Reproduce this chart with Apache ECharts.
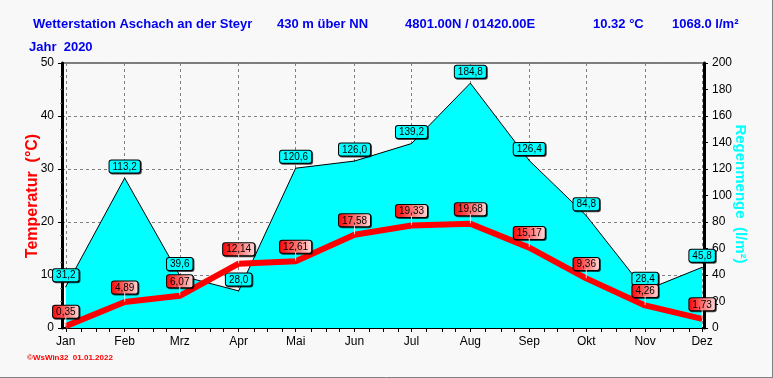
<!DOCTYPE html>
<html>
<head>
<meta charset="utf-8">
<script src="https://cdn.jsdelivr.net/npm/echarts@6/dist/echarts.min.js"></script>
<style>
html,body{margin:0;padding:0;background:#f8f8f8;}
#chart{width:773px;height:378px;}
</style>
</head>
<body>
<div id="chart"></div>
<script>
// ---- data ----
const months = ['Jan','Feb','Mrz','Apr','Mai','Jun','Jul','Aug','Sep','Okt','Nov','Dez'];
const temperature = [0.35, 4.89, 6.07, 12.14, 12.61, 17.58, 19.33, 19.68, 15.17, 9.36, 4.26, 1.73];
const rain = [31.2, 113.2, 39.6, 28.0, 120.6, 126.0, 139.2, 184.8, 126.4, 84.8, 28.4, 45.8];
const tempTicks = [0, 10, 20, 30, 40, 50];
const rainTicks = [0, 20, 40, 60, 80, 100, 120, 140, 160, 180, 200];
const year = 2020;

// ---- day-based category axis (months are placed at their first day) ----
const DAY = 86400000;
const start = Date.UTC(year - 1, 11, 30);
const end = Date.UTC(year, 11, 2);
const days = [];
for (let t = start; t <= end; t += DAY) days.push(new Date(t).toISOString().slice(0, 10));
const monthIdx = months.map((m, i) => Math.round((Date.UTC(year, i, 1) - start) / DAY));
const monthLabelAt = {};
monthIdx.forEach((d, i) => monthLabelAt[d] = months[i]);
const tickSet = new Set();
monthIdx.forEach((d, i) => {
  const len = Math.round((Date.UTC(year, i + 1, 1) - Date.UTC(year, i, 1)) / DAY);
  for (let k = 0; k < 4; k++) {
    const idx = d + Math.round(k * len / 4);
    if (idx < days.length) tickSet.add(idx);
  }
});
const monthSet = new Set(monthIdx);

const tempData = temperature.map((v, i) => [monthIdx[i], v]);
const rainData = rain.map((v, i) => [monthIdx[i], v]);
const fmt = (v, n) => v.toFixed(n).replace('.', ',');

const chart = echarts.init(document.getElementById('chart'));
const blue = '#0000ee';
const titleFont = 'bold 13px "Liberation Sans", Arial, sans-serif';
const labelBase = {
  color: '#000', fontSize: 10, fontFamily: 'Arial, "Liberation Sans", sans-serif',
  borderColor: '#000', borderWidth: 1, borderRadius: 2,
  padding: [1, 3, 0, 3], lineHeight: 11,
  shadowColor: 'rgba(0,0,0,0.7)', shadowOffsetX: 1, shadowOffsetY: 1, shadowBlur: 0
};

chart.setOption({
  backgroundColor: '#f8f8f8',
  animation: false,
  grid: { left: 62, right: 69, top: 63, bottom: 50, show: true, borderColor: '#000', borderWidth: 1, backgroundColor: '#f8f8f8' },
  xAxis: {
    type: 'category',
    data: days,
    boundaryGap: false,
    axisLine: { lineStyle: { color: '#000', width: 2 } },
    axisTick: { interval: (i) => tickSet.has(i), length: 4, lineStyle: { color: '#000' } },
    axisLabel: {
      interval: (i) => monthSet.has(i),
      formatter: (v, i) => monthLabelAt[i] || '',
      color: '#000', fontSize: 12, fontFamily: '"Liberation Sans", Arial, sans-serif', margin: 8
    },
    splitLine: { show: true, interval: (i) => monthSet.has(i), lineStyle: { color: '#808080', type: [3, 3], width: 1 } }
  },
  yAxis: [
    {
      type: 'value', min: tempTicks[0], max: tempTicks[tempTicks.length - 1], interval: tempTicks[1] - tempTicks[0],
      position: 'left',
      axisLine: { show: true, lineStyle: { color: '#000', width: 3 } },
      axisTick: { show: true, length: 4, lineStyle: { color: '#000' } },
      minorTick: { show: true, splitNumber: 4, length: 2, lineStyle: { color: '#808080' } },
      axisLabel: { color: '#000', fontSize: 12, fontFamily: '"Liberation Sans", Arial, sans-serif', margin: 8 },
      splitLine: { show: true, lineStyle: { color: '#808080', type: [3, 3], width: 1 } }
    },
    {
      type: 'value', min: rainTicks[0], max: rainTicks[rainTicks.length - 1], interval: rainTicks[1] - rainTicks[0],
      position: 'right',
      axisLine: { show: true, lineStyle: { color: '#000', width: 3 } },
      axisTick: { show: true, length: 4, lineStyle: { color: '#000' } },
      minorTick: { show: true, splitNumber: 2, length: 2, lineStyle: { color: '#000' } },
      axisLabel: { color: '#000', fontSize: 12, fontFamily: '"Liberation Sans", Arial, sans-serif', margin: 8 },
      splitLine: { show: false }
    }
  ],
  series: [
    {
      name: 'Regenmenge', type: 'line', yAxisIndex: 1, data: rainData,
      symbol: 'circle', symbolSize: 1, showSymbol: true, z: 1,
      itemStyle: { color: '#000' },
      lineStyle: { color: '#000', width: 1 },
      areaStyle: { color: '#00ffff', opacity: 1 },
      label: Object.assign({
        show: true, position: 'top', distance: 5,
        formatter: (p) => fmt(p.value[1], 1),
        backgroundColor: '#00ffff'
      }, labelBase)
    },
    {
      name: 'Temperatur', type: 'line', yAxisIndex: 0, data: tempData,
      symbol: 'circle', symbolSize: 1, showSymbol: true, z: 3,
      itemStyle: { color: '#ff0000' },
      lineStyle: { color: '#ff0000', width: 6 },
      label: Object.assign({
        show: true, position: 'top', distance: 8,
        formatter: (p) => fmt(p.value[1], 2),
        backgroundColor: { type: 'linear', x: 0, y: 0, x2: 1, y2: 0, colorStops: [{ offset: 0, color: '#ff0000' }, { offset: 1, color: '#ffdcdc' }] }
      }, labelBase)
    },
    {
      name: 'tick', type: 'scatter', yAxisIndex: 0, data: tempData,
      symbol: 'rect', symbolSize: [1, 9], symbolOffset: [0, -5], z: 4,
      itemStyle: { color: '#ffffff' }, silent: true
    }
  ],
  graphic: [
    { type: 'text', left: 33, top: 18, style: { text: 'Wetterstation Aschach an der Steyr', font: titleFont, fill: blue } },
    { type: 'text', left: 277, top: 18, style: { text: '430 m über NN', font: titleFont, fill: blue } },
    { type: 'text', left: 405, top: 18, style: { text: '4801.00N / 01420.00E', font: titleFont, fill: blue } },
    { type: 'text', left: 593, top: 18, style: { text: '10.32 °C', font: titleFont, fill: blue } },
    { type: 'text', left: 672, top: 18, style: { text: '1068.0 l/m²', font: titleFont, fill: blue } },
    { type: 'text', left: 29, top: 41, style: { text: 'Jahr  2020', font: titleFont, fill: blue } },
    { type: 'text', x: 33, y: 196, rotation: Math.PI / 2,
      style: { text: 'Temperatur  (°C)', font: 'bold 16px "Liberation Sans", Arial, sans-serif', fill: '#ff0000', align: 'center', verticalAlign: 'middle' } },
    { type: 'text', x: 740, y: 194, rotation: -Math.PI / 2,
      style: { text: 'Regenmenge  (l/m²)', font: 'bold 15px "Liberation Sans", Arial, sans-serif', fill: '#00ffff', align: 'center', verticalAlign: 'middle' } },
    { type: 'text', left: 27, top: 354, style: { text: '©WsWin32  01.01.2022', font: 'bold 8px "Liberation Sans", Arial, sans-serif', fill: '#ff0000' } },
    { type: 'line', shape: { x1: 0, y1: 377.5, x2: 773, y2: 377.5 }, style: { stroke: '#808080', lineWidth: 1 } },
    { type: 'line', shape: { x1: 772.5, y1: 0, x2: 772.5, y2: 378 }, style: { stroke: '#808080', lineWidth: 1 } }
  ]
});
</script>
</body>
</html>
